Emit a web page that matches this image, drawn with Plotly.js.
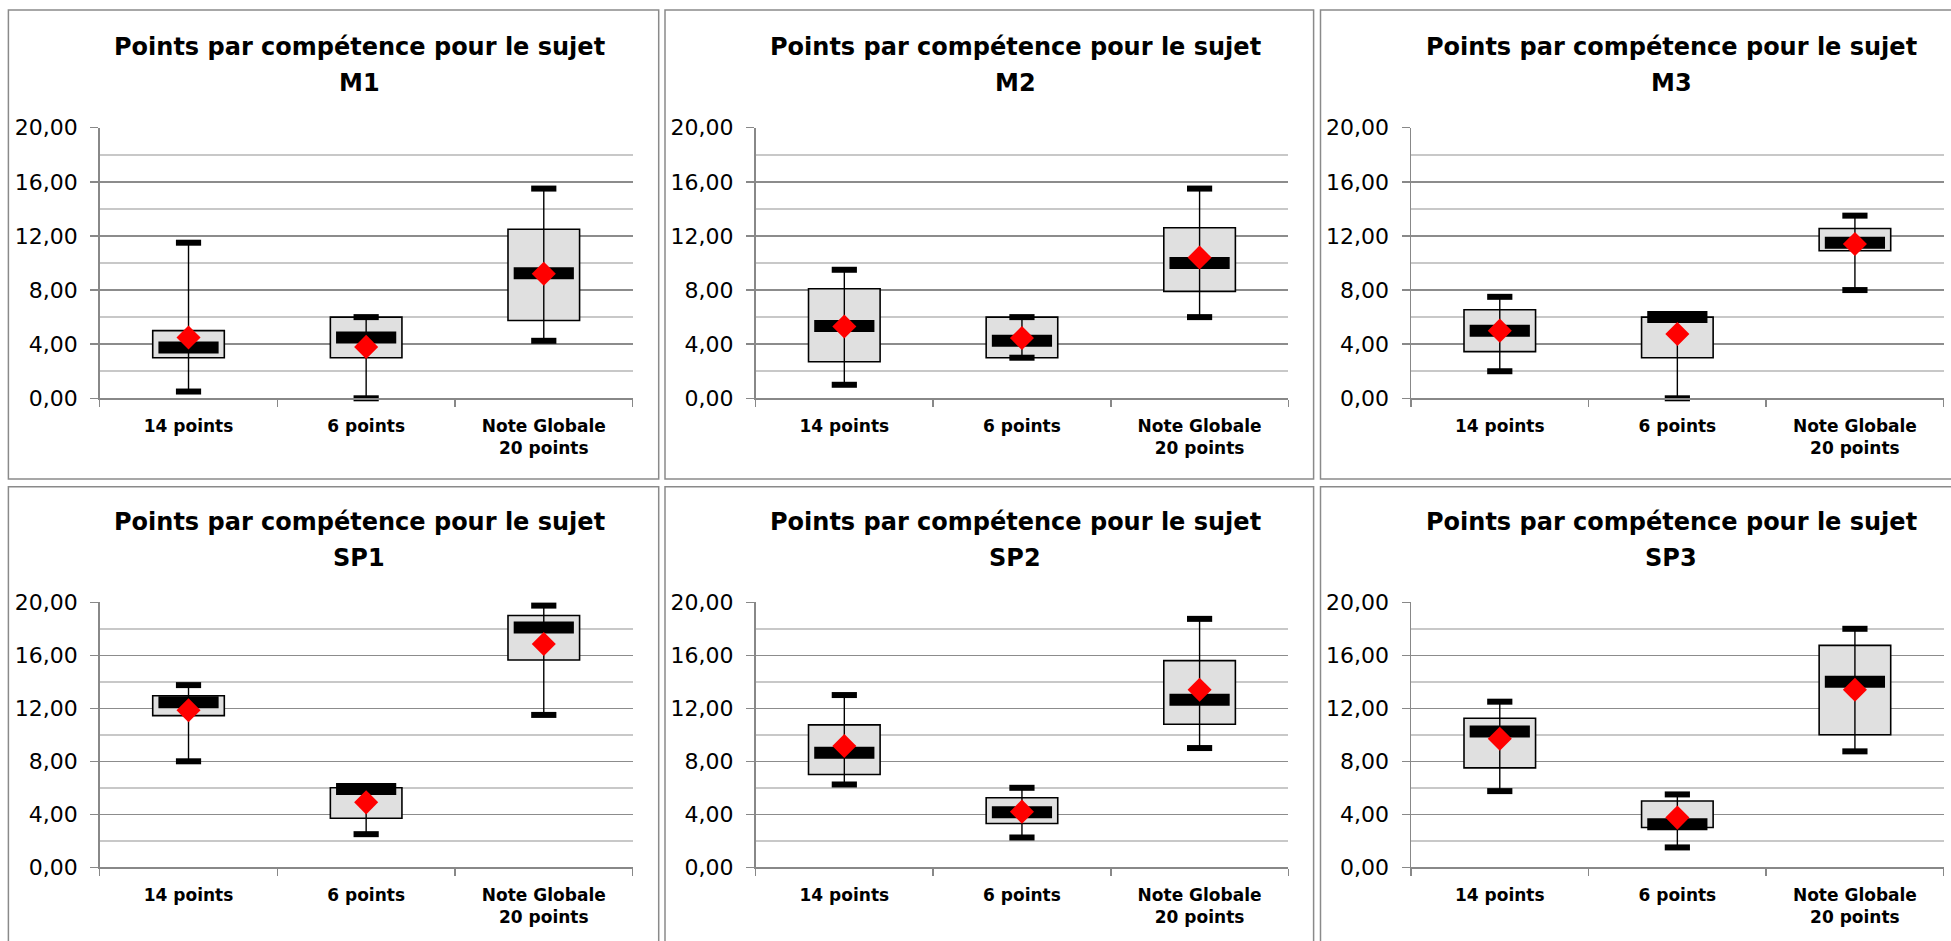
<!DOCTYPE html>
<html><head><meta charset="utf-8">
<script src="https://cdn.plot.ly/plotly-3.0.1.min.js"></script>
<style>html,body{margin:0;padding:0;background:#fff;overflow:hidden;} #chart{width:1951px;height:941px;}</style>
</head><body><div id="chart"></div>
<script>
// Subjects (panel order: top row M1, M2, M3; bottom row SP1, SP2, SP3)
const subjects = ['M1', 'M2', 'M3', 'SP1', 'SP2', 'SP3'];
const categories = ['14 points', '6 points', 'Note Globale<br>20 points'];
const yTickVals = [0, 4, 8, 12, 16, 20];

// One row per subject, one value per category
const minimum = [
  [0.5, 0.0, 4.25],
  [1.0, 3.0, 6.0],
  [2.0, 0.0, 8.0],
  [8.0, 2.5, 11.5],
  [6.25, 2.25, 9.0],
  [5.75, 1.5, 8.75]
];
const quartile1 = [
  [3.0, 3.0, 5.75],
  [2.7, 3.0, 7.9],
  [3.45, 3.0, 10.9],
  [11.45, 3.7, 15.65],
  [7.0, 3.3, 10.8],
  [7.5, 3.0, 10.0]
];
const median = [
  [3.75, 4.5, 9.25],
  [5.35, 4.25, 10.0],
  [5.0, 6.0, 11.5],
  [12.45, 5.9, 18.1],
  [8.65, 4.15, 12.65],
  [10.25, 3.25, 14.0]
];
const quartile3 = [
  [5.0, 6.0, 12.5],
  [8.1, 6.0, 12.6],
  [6.55, 6.0, 12.55],
  [12.95, 6.0, 19.0],
  [10.75, 5.25, 15.6],
  [11.25, 5.0, 16.75]
];
const maximum = [
  [11.5, 6.0, 15.5],
  [9.5, 6.0, 15.5],
  [7.5, 6.0, 13.5],
  [13.75, 6.0, 19.75],
  [13.0, 6.0, 18.75],
  [12.5, 5.5, 18.0]
];
const mean = [
  [4.5, 3.8, 9.2],
  [5.3, 4.45, 10.4],
  [5.0, 4.75, 11.4],
  [11.85, 4.9, 16.85],
  [9.15, 4.2, 13.4],
  [9.7, 3.75, 13.4]
];

// ---- page geometry (pixels) ----
const W = 1951, H = 941;
const colPlot = [[99.7, 632.6], [755.5, 1288.4], [1411, 1943.7]];
const rowPlot = [[127.7, 398.3], [602.3, 867.3]];
const colBorder = [[8.4, 658.7], [665, 1313.6], [1320.5, 1953]];
const rowBorder = [[10, 479], [486.7, 945]];
const titleX = [359, 1015, 1671];
const titleY = [[46.7, 83.3], [521.7, 558.3]];

const FONT = 'DejaVu Sans';
const traces = [];
const layout = {
  width: W, height: H,
  margin: {l: 0, r: 0, t: 0, b: 0},
  paper_bgcolor: '#ffffff',
  plot_bgcolor: '#ffffff',
  showlegend: false,
  separators: ', ',
  font: {family: FONT, color: '#000'},
  barmode: 'overlay',
  shapes: [],
  annotations: []
};

subjects.forEach((subj, i) => {
  const row = Math.floor(i / 3), col = i % 3;
  const n = i + 1;
  const xa = 'x' + (n === 1 ? '' : n), ya = 'y' + (n === 1 ? '' : n);
  const xKey = 'xaxis' + (n === 1 ? '' : n), yKey = 'yaxis' + (n === 1 ? '' : n);

  layout[xKey] = {
    domain: [colPlot[col][0] / W, colPlot[col][1] / W],
    anchor: ya,
    type: 'category',
    categoryorder: 'array', categoryarray: categories,
    range: [-0.5, 2.5],
    tickson: 'boundaries',
    ticks: 'outside', ticklen: 7, tickwidth: 1.5, tickcolor: '#888',
    showline: true, linecolor: '#888', linewidth: 1.5,
    showgrid: false, zeroline: false,
    tickfont: {family: FONT, size: 17, weight: 'bold', color: '#000'},
    ticklabelstandoff: 12,
    fixedrange: true
  };
  layout[yKey] = {
    domain: [1 - rowPlot[row][1] / H, 1 - rowPlot[row][0] / H],
    anchor: xa,
    range: [0, 20],
    tickvals: yTickVals,
    tickformat: '.2f',
    ticks: 'outside', ticklen: 8, tickwidth: 1.5, tickcolor: '#888',
    showline: true, linecolor: '#888', linewidth: 1.5,
    showgrid: true, gridcolor: '#8c8c8c', gridwidth: 1.5,
    minor: {dtick: 2, tick0: 0, showgrid: true, gridcolor: '#c8c8c8', gridwidth: 1.5, ticks: ''},
    zeroline: false,
    tickfont: {family: FONT, size: 22, color: '#000'},
    ticklabelstandoff: 8,
    fixedrange: true
  };

  // box (Q1 -> Q3)
  traces.push({
    type: 'bar', xaxis: xa, yaxis: ya,
    x: categories,
    base: quartile1[i],
    y: quartile3[i].map((v, k) => v - quartile1[i][k]),
    width: 0.403,
    marker: {color: '#e0e0e0', line: {color: '#000', width: 1.6}},
    hoverinfo: 'skip'
  });
  // whisker (min -> max)
  const wx = [], wy = [];
  categories.forEach((c, k) => { wx.push(c, c, null); wy.push(minimum[i][k], maximum[i][k], null); });
  traces.push({
    type: 'scatter', mode: 'lines', xaxis: xa, yaxis: ya,
    x: wx, y: wy, line: {color: '#000', width: 1.4}, cliponaxis: false,
    connectgaps: false, hoverinfo: 'skip'
  });
  // caps at min and max
  traces.push({
    type: 'scatter', mode: 'markers', xaxis: xa, yaxis: ya,
    x: categories.concat(categories),
    y: minimum[i].concat(maximum[i]),
    marker: {symbol: 'line-ew', size: 18, color: '#000', line: {color: '#000', width: 6}},
    cliponaxis: false, hoverinfo: 'skip'
  });
  // median bar
  traces.push({
    type: 'scatter', mode: 'markers', xaxis: xa, yaxis: ya,
    x: categories, y: median[i],
    marker: {symbol: 'line-ew', size: 43, color: '#000', line: {color: '#000', width: 12}},
    cliponaxis: false, hoverinfo: 'skip'
  });
  // mean
  traces.push({
    type: 'scatter', mode: 'markers', xaxis: xa, yaxis: ya,
    x: categories, y: mean[i],
    marker: {symbol: 'diamond', size: 18.5, color: '#ff0000', line: {width: 0}},
    cliponaxis: false, hoverinfo: 'skip'
  });

  // panel border
  layout.shapes.push({
    type: 'rect', xref: 'paper', yref: 'paper',
    x0: colBorder[col][0] / W, x1: colBorder[col][1] / W,
    y0: 1 - rowBorder[row][1] / H, y1: 1 - rowBorder[row][0] / H,
    line: {color: '#8a8a8a', width: 1.5}, fillcolor: 'rgba(0,0,0,0)'
  });
  // title, two lines
  layout.annotations.push({
    xref: 'paper', yref: 'paper', x: titleX[col] / W, y: 1 - titleY[row][0] / H,
    xanchor: 'center', yanchor: 'middle', showarrow: false,
    text: 'Points par compétence pour le sujet',
    font: {family: FONT, size: 24, weight: 'bold', color: '#000'}
  });
  layout.annotations.push({
    xref: 'paper', yref: 'paper', x: titleX[col] / W, y: 1 - titleY[row][1] / H,
    xanchor: 'center', yanchor: 'middle', showarrow: false,
    text: subj,
    font: {family: FONT, size: 24, weight: 'bold', color: '#000'}
  });
});

Plotly.newPlot('chart', traces, layout, {staticPlot: true, displayModeBar: false});
</script>
</body></html>
